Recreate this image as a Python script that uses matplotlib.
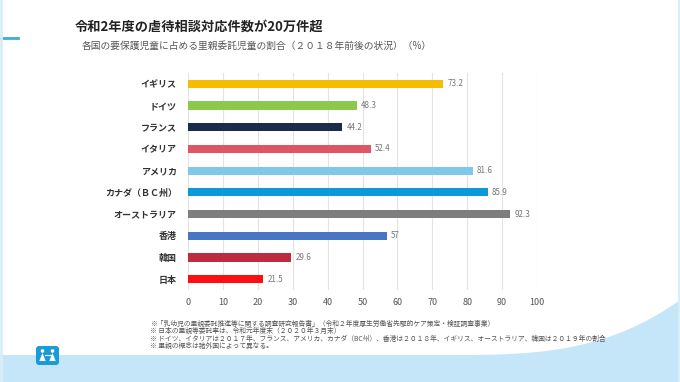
import numpy as np
import matplotlib
matplotlib.use('Agg')
import matplotlib.pyplot as plt
from matplotlib.patches import FancyBboxPatch, Polygon, Circle

plt.rcParams['font.family'] = ['Noto Sans CJK JP', 'DejaVu Sans']

countries = ['イギリス', 'ドイツ', 'フランス', 'イタリア', 'アメリカ',
             'カナダ（ＢＣ州）', 'オーストラリア', '香港', '韓国', '日本']
rates = [73.2, 48.3, 44.2, 52.4, 81.6, 85.9, 92.3, 57, 29.6, 21.5]
rate_labels = ['73.2', '48.3', '44.2', '52.4', '81.6', '85.9', '92.3', '57', '29.6', '21.5']
bar_colors = ['#F5BD02', '#8CC84B', '#1C2B4B', '#E05565', '#7FC8EC',
              '#0A9AD8', '#7E7E7E', '#4A74C4', '#BE2A3E', '#FA1010']
x_ticks = [0, 10, 20, 30, 40, 50, 60, 70, 80, 90, 100]

title = '令和2年度の虐待相談対応件数が20万件超'
subtitle = '各国の要保護児童に占める里親委託児童の割合（２０１８年前後の状況）（%）'
notes = [
    '※「乳幼児の里親委託推進等に関する調査研究報告書」（令和２年度厚生労働省先駆的ケア策定・検証調査事業）',
    '※ 日本の里親等委託率は、令和元年度末（２０２０年３月末）',
    '※ ドイツ、イタリアは２０１７年、フランス、アメリカ、カナダ（BC州）、香港は２０１８年、イギリス、オーストラリア、韓国は２０１９年の割合',
    '※ 里親の概念は諸外国によって異なる。',
]

fig = plt.figure(figsize=(6.8, 3.82), dpi=100)
fig.patch.set_facecolor('white')

# background decoration
bg = fig.add_axes([0, 0, 1, 1], zorder=0)
bg.set_xlim(0, 680)
bg.set_ylim(382, 0)
bg.axis('off')
xs = np.linspace(0, 680, 300)
wave_top = 355 - 55 * ((xs - 450) / 230).clip(0, 1) ** 3
bg.fill_between(xs, wave_top, 382, color='#C5E6F8', lw=0)
bg.plot([0, 18], [38, 38], color='#3BAED8', lw=2)
bg.plot([1, 1], [0, 382], color='#D6EEF8', lw=2)
bg.plot([679, 679], [0, 382], color='#D6EEF8', lw=2)

# logo: blue rounded square with two small figures
bg.add_patch(FancyBboxPatch((36, 346), 23, 19, boxstyle='round,pad=0,rounding_size=3',
                            fc='#1A9AD6', ec='none'))
for cx in (42.5, 52.5):
    bg.add_patch(Circle((cx, 351), 1.8, fc='white', ec='none'))
    bg.add_patch(Polygon([[cx, 353], [cx - 3.2, 361], [cx + 3.2, 361]], closed=True,
                         fc='white', ec='none'))
bg.plot([44.5, 50.5], [355, 355], color='white', lw=0.8)

fig.text(75 / 680, 1 - 27 / 382, title, fontsize=9.5, fontweight='bold',
         color='#222222', va='center')
fig.text(82 / 680, 1 - 46 / 382, subtitle, fontsize=7, color='#555555', va='center')
for i, line in enumerate(notes):
    fig.text(150 / 680, 1 - (324 + i * 7.4) / 382, line, fontsize=4.9,
             color='#555555', va='center')

ax = fig.add_axes([188 / 680, 1 - 290 / 382, 349 / 680, 217 / 382], zorder=1)
ax.patch.set_alpha(0)
y = np.arange(len(countries))
ax.barh(y, rates, height=0.38, color=bar_colors, zorder=3)
for yi, v, lab in zip(y, rates, rate_labels):
    ax.text(v + 1.2, yi, lab, va='center', ha='left', fontsize=5.8, color='#777777')

ax.set_xlim(0, 100)
ax.set_ylim(len(countries) - 0.5, -0.5)
ax.set_xticks(x_ticks)
ax.set_xticklabels([str(t) for t in x_ticks], fontsize=6.5, color='#555555')
ax.set_yticks(y)
ax.set_yticklabels(countries, fontsize=6.5, fontweight='bold', color='#333333')
ax.tick_params(axis='both', length=0)
ax.tick_params(axis='y', pad=8)
ax.tick_params(axis='x', pad=6)
ax.grid(axis='x', color='#E3E3E3', lw=0.8, zorder=0)
for s in ax.spines.values():
    s.set_visible(False)

fig.savefig('out.png', dpi=100, facecolor='white')
